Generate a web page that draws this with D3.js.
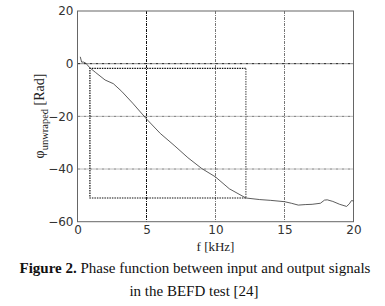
<!DOCTYPE html>
<html><head><meta charset="utf-8">
<script src="https://cdn.jsdelivr.net/npm/d3@7"></script>
<style>body{margin:0;background:#fff}svg{display:block}</style>
</head><body>
<script>
const xTicks = [0, 5, 10, 15, 20];
const yTicks = [20, 0, -20, -40, -60];
const freq = [0.2, 0.3, 0.45, 0.6, 0.9, 1.3, 2.0, 2.6, 3.2, 4.0, 5.0, 6.0, 7.0, 8.0, 9.0, 10.0, 11.0, 12.2, 13.2, 14.0, 15.0, 15.5, 16.0, 16.5, 17.0, 17.6, 17.9, 18.1, 18.5, 19.0, 19.5, 19.7, 19.85, 20.0];
const phase = [2.6, 0.6, 0.6, 0.2, -1.6, -3.3, -6.2, -7.6, -10.5, -15.0, -21.0, -26.5, -31.0, -35.7, -39.8, -43.0, -47.5, -51.0, -51.6, -51.9, -52.4, -53.0, -53.7, -53.5, -53.4, -53.0, -51.8, -51.7, -52.3, -53.4, -54.2, -53.2, -52.0, -52.1];
const boxF = [0.9, 12.2];
const boxPhi = [-1.8, -51.0];

const W = 385, H = 306;
const svg = d3.select("body").append("svg").attr("width", W).attr("height", H);
const x = d3.scaleLinear().domain([0, 20]).range([77.5, 353.5]);
const y = d3.scaleLinear().domain([-60, 20]).range([221.7, 11]);

// grid
const g = svg.append("g");
g.selectAll(".vg").data(xTicks.slice(1, -1)).enter().append("line")
  .attr("x1", d => x(d)).attr("x2", d => x(d)).attr("y1", y(20)).attr("y2", y(-60))
  .attr("stroke", d => d === 5 ? "#111" : "#777").attr("stroke-width", 1)
  .attr("stroke-dasharray", "3,1,1,1");
g.selectAll(".hg").data(yTicks.slice(1, -1)).enter().append("line")
  .attr("y1", d => y(d)).attr("y2", d => y(d)).attr("x1", x(0)).attr("x2", x(20))
  .attr("stroke", d => d === 0 ? "#111" : "#777").attr("stroke-width", 1)
  .attr("stroke-dasharray", "3,1,1,1");

// dotted rectangle
const rg = svg.append("g").attr("fill", "none");
rg.append("path")
  .attr("d", `M${x(boxF[1])},${y(boxPhi[0])}L${x(boxF[0])},${y(boxPhi[0])}L${x(boxF[0])},${y(boxPhi[1])}L${x(boxF[1])},${y(boxPhi[1])}`)
  .attr("stroke", "#111").attr("stroke-width", 1.2).attr("stroke-dasharray", "1.5,1");
rg.append("line").attr("x1", x(boxF[1])).attr("x2", x(boxF[1])).attr("y1", y(boxPhi[0])).attr("y2", y(boxPhi[1]))
  .attr("stroke", "#888").attr("stroke-width", 1.6).attr("stroke-dasharray", "1.5,1");

// axes frame
const xAxis = d3.axisBottom(x).tickValues(xTicks).tickSize(0).tickPadding(4);
const yAxis = d3.axisLeft(y).tickValues(yTicks).tickSize(0).tickPadding(4);
const ax = svg.append("g").attr("transform", `translate(0,${y(-60)})`).call(xAxis);
const ay = svg.append("g").attr("transform", `translate(${x(0)},0)`).call(yAxis);
[ax, ay].forEach(a => {
  a.select(".domain").remove();
  a.selectAll("text").attr("font-family", "DejaVu Sans").attr("font-size", 12).attr("fill", "#333");
});
svg.append("rect").attr("x", x(0)).attr("y", y(20)).attr("width", x(20) - x(0)).attr("height", y(-60) - y(20))
  .attr("fill", "none").attr("stroke", "#666").attr("stroke-width", 1);

// curve
const line = d3.line().x((d, i) => x(freq[i])).y(d => y(d));
svg.append("path").datum(phase).attr("d", line).attr("fill", "none").attr("stroke", "#333").attr("stroke-width", 0.8);

// labels
svg.append("text").attr("x", x(10)).attr("y", 251).attr("text-anchor", "middle")
  .attr("font-family", "Liberation Serif").attr("font-size", 13).attr("fill", "#222").text("f [kHz]");
const yl = svg.append("text").attr("transform", `translate(44,116) rotate(-90)`).attr("text-anchor", "middle")
  .attr("font-family", "Liberation Serif").attr("font-size", 14).attr("fill", "#222");
yl.append("tspan").text("φ");
yl.append("tspan").attr("font-size", 10.5).attr("dy", 4).text("unwraped");
yl.append("tspan").attr("dy", -4).text(" [Rad]");

const cap = svg.append("g").attr("font-family", "Liberation Serif").attr("font-size", 15).attr("fill", "#111").attr("text-anchor", "middle");
const c1 = cap.append("text").attr("x", 195).attr("y", 273);
c1.append("tspan").attr("font-weight", "bold").text("Figure 2.");
c1.append("tspan").text(" Phase function between input and output signals");
cap.append("text").attr("x", 194).attr("y", 296).text("in the BEFD test [24]");
</script>
</body></html>
